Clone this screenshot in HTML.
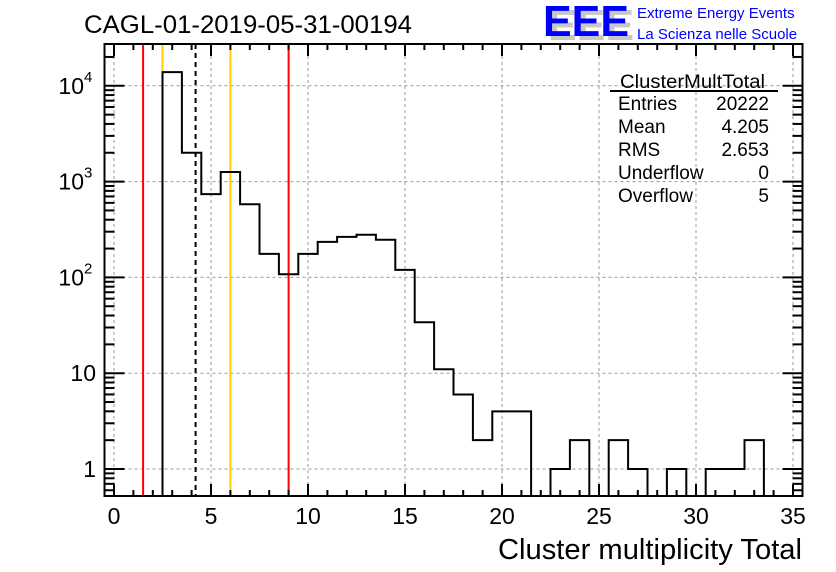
<!DOCTYPE html>
<html><head><meta charset="utf-8"><style>
html,body{margin:0;padding:0;background:#fff;width:836px;height:572px;overflow:hidden}
svg{display:block;font-family:"Liberation Sans",sans-serif}
</style></head><body>
<svg id="chart" width="836" height="572" viewBox="0 0 836 572" xmlns="http://www.w3.org/2000/svg">
<text x="84" y="33" font-size="25" fill="#000" textLength="328" lengthAdjust="spacingAndGlyphs">CAGL-01-2019-05-31-00194</text>
<g>
<text x="548" y="40" font-size="44" font-weight="bold" fill="#c8c8c8" textLength="86" lengthAdjust="spacingAndGlyphs">EEE</text>
<text x="543" y="36" font-size="44" font-weight="bold" fill="#0000ff" textLength="86" lengthAdjust="spacingAndGlyphs">EEE</text>
<text x="637" y="18" font-size="15" fill="#0000ff">Extreme Energy Events</text>
<text x="637" y="39" font-size="15" fill="#0000ff">La Scienza nelle Scuole</text>
</g>
<g id="grid"></g>
<g id="lines"></g>
<g id="hist"></g>
<g id="axes"></g>
<g font-size="19" fill="#000">
<text x="620" y="88" textLength="145" lengthAdjust="spacingAndGlyphs">ClusterMultTotal</text>
<line x1="610" y1="91" x2="778" y2="91" stroke="#000" stroke-width="2"/>
<text x="618" y="110">Entries</text><text x="769" y="110" text-anchor="end">20222</text>
<text x="618" y="133">Mean</text><text x="769" y="133" text-anchor="end">4.205</text>
<text x="618" y="156">RMS</text><text x="769" y="156" text-anchor="end">2.653</text>
<text x="618" y="179">Underflow</text><text x="769" y="179" text-anchor="end">0</text>
<text x="618" y="202">Overflow</text><text x="769" y="202" text-anchor="end">5</text>
</g>
<text x="802" y="559" font-size="29" text-anchor="end" textLength="304" lengthAdjust="spacingAndGlyphs">Cluster multiplicity Total</text>
</svg>
<script>
const binCenters=[0,1,2,3,4,5,6,7,8,9,10,11,12,13,14,15,16,17,18,19,20,21,22,23,24,25,26,27,28,29,30,31,32,33,34,35];
const binCounts=[0,0,0,13900,2000,740,1260,580,176,108,176,235,265,279,247,120,34,11,6,2,4,4,0,1,2,0,2,1,0,1,0,1,1,2,0,0];
const xTicks=[0,5,10,15,20,25,30,35];
const yTickExp=[0,1,2,3,4];
const yTickLabels=["1","10","10","10","10"];
const yTickSup=["","","2","3","4"];
const redLines=[1.5,9];
const orangeLines=[2.5,6];
const meanLine=[4.205];
const NS="http://www.w3.org/2000/svg";
const L=104.5,R=802.5,T=44,B=496;
const X=v=>114+(v)*19.4;
const Y=v=>469-Math.log10(v)*95.8;
function el(tag,attrs,parent){const e=document.createElementNS(NS,tag);for(const k in attrs)e.setAttribute(k,attrs[k]);parent.appendChild(e);return e;}
const grid=document.getElementById('grid'),axes=document.getElementById('axes'),lines=document.getElementById('lines'),hist=document.getElementById('hist');
xTicks.forEach(t=>{const g=el('line',{x1:X(t),x2:X(t),y1:T,y2:B,stroke:'#999','stroke-dasharray':'3,3','stroke-width':1},grid);

});
yTickExp.forEach(e=>{const g=el('line',{x1:L,x2:R,y1:Y(Math.pow(10,e)),y2:Y(Math.pow(10,e)),stroke:'#999','stroke-dasharray':'3,3','stroke-width':1},grid);

});
function vline(v,color,dash,name){const l=el('line',{x1:X(v),x2:X(v),y1:T,y2:B,stroke:color,'stroke-width':2},lines);if(dash)l.setAttribute('stroke-dasharray','5,4');

}
redLines.forEach(v=>vline(v,'#ff0000',false,'red-cut-line'));
orangeLines.forEach(v=>vline(v,'#ffcc00',false,'orange-cut-line'));
meanLine.forEach(v=>vline(v,'#000',true,'mean-line'));
let d='';
binCenters.forEach((c,i)=>{const n=binCounts[i];const y=n>0?Math.max(T,Math.min(B,Y(n))):B;const x0=Math.max(L,X(c-0.5)),x1=Math.min(R,X(c+0.5));
if(i===0)d+='M'+x0+','+y;else d+='L'+x0+','+y;d+='L'+x1+','+y;});
const p=el('path',{d:d,fill:'none',stroke:'#000','stroke-width':2},hist);


const fr=el('rect',{x:L,y:T,width:R-L,height:B-T,fill:'none',stroke:'#000','stroke-width':2},axes);


for(let v=0;v<=35;v++){const len=v%5===0?12:6;
el('line',{x1:X(v),x2:X(v),y1:B,y2:B-len,stroke:'#000','stroke-width':2},axes);
el('line',{x1:X(v),x2:X(v),y1:T,y2:T+len,stroke:'#000','stroke-width':2},axes);}
xTicks.forEach(t=>{const tx=el('text',{x:X(t),y:524,'font-size':23,'text-anchor':'middle'},axes);tx.textContent=t;

});
for(let e=-1;e<=4;e++){for(let m=1;m<=9;m++){const v=m*Math.pow(10,e);const y=Y(v);if(y<T||y>B)continue;const len=m===1?20:10;
el('line',{x1:L,x2:L+len,y1:y,y2:y,stroke:'#000','stroke-width':2},axes);
el('line',{x1:R,x2:R-len,y1:y,y2:y,stroke:'#000','stroke-width':2},axes);}}
yTickExp.forEach((e,i)=>{const y=Y(Math.pow(10,e));const tx=el('text',{x:yTickSup[i]?84:96,y:y+8,'font-size':23,'text-anchor':'end'},axes);tx.textContent=yTickLabels[i];


if(yTickSup[i]){const s=el('text',{x:84,y:y-4,'font-size':15},axes);s.textContent=yTickSup[i];

}});
</script>
</body></html>
